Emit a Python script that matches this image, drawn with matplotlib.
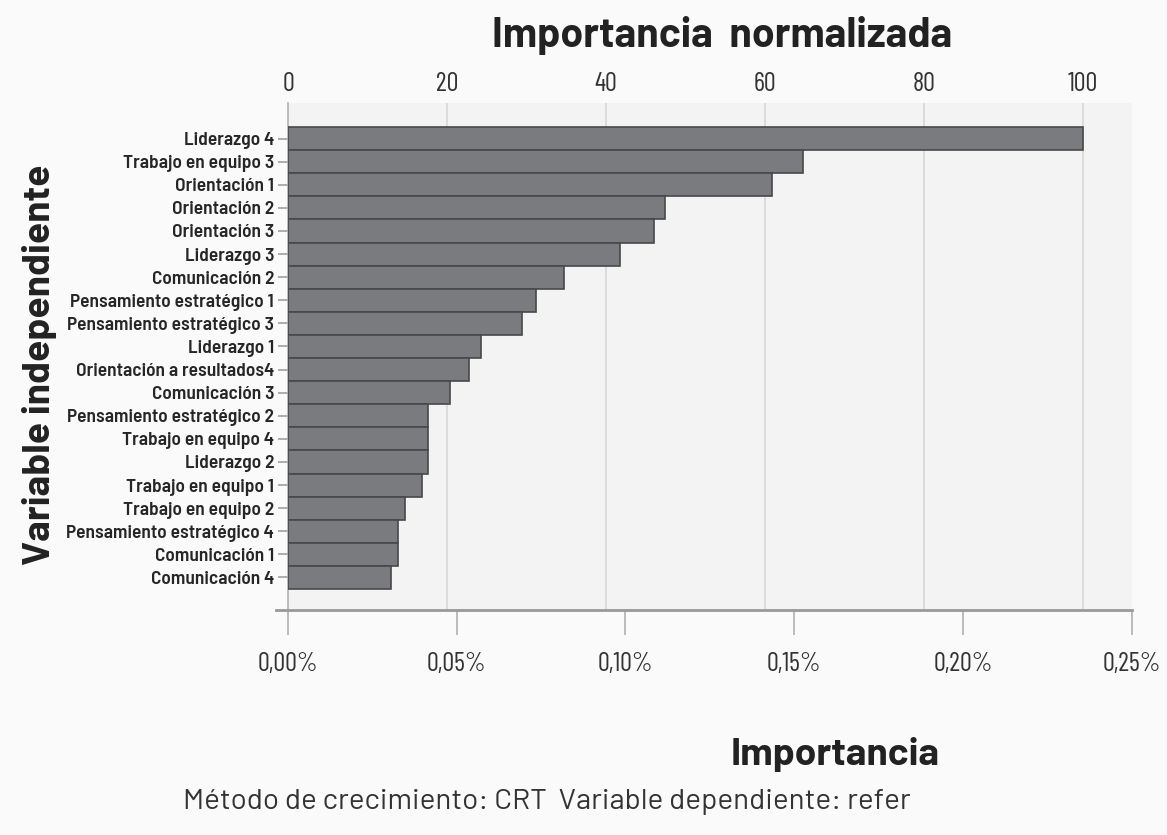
import matplotlib.pyplot as plt

# Datos (importancia en %)
variables = ['Liderazgo 4', 'Trabajo en equipo 3', 'Orientación 1', 'Orientación 2',
             'Orientación 3', 'Liderazgo 3', 'Comunicación 2', 'Pensamiento estratégico 1',
             'Pensamiento estratégico 3', 'Liderazgo 1', 'Orientación a resultados4',
             'Comunicación 3', 'Pensamiento estratégico 2', 'Trabajo en equipo 4',
             'Liderazgo 2', 'Trabajo en equipo 1', 'Trabajo en equipo 2',
             'Pensamiento estratégico 4', 'Comunicación 1', 'Comunicación 4']
importancia = [0.2356, 0.1525, 0.1434, 0.1118, 0.1085, 0.0983, 0.0817, 0.0735,
               0.0694, 0.0571, 0.0535, 0.0479, 0.0414, 0.0414, 0.0414, 0.0398,
               0.0347, 0.0327, 0.0327, 0.0305]
ticks_pct = [0.00, 0.05, 0.10, 0.15, 0.20, 0.25]
ticks_norm = [0, 20, 40, 60, 80, 100]

narrow = ['Barlow Condensed', 'DejaVu Sans']
semi = ['Barlow Semi Condensed', 'Barlow Condensed', 'DejaVu Sans']
din = ['Barlow', 'DejaVu Sans']

fig = plt.figure(figsize=(11.67, 8.35), dpi=100, facecolor='#fafafa')
ax = fig.add_axes([0.2468, 0.2689, 0.7228, 0.6077])
ax.set_facecolor('#f2f3f2')

maximo = max(importancia)
y = list(range(len(variables)))
ax.barh(y, importancia, height=1.0, color='#7a7b7f', edgecolor='#48484b',
        linewidth=1.2, zorder=3)

ax.set_xlim(0, 0.25)
ax.set_ylim(20.43, -1.54)

# eje inferior en %
ax.set_xticks(ticks_pct)
ax.set_xticklabels([('%.2f%%' % t).replace('.', ',') for t in ticks_pct],
                   family=narrow, fontsize=19, color='#333333')
ax.tick_params(axis='x', length=18, width=1.1, color='#aaaaaa', pad=12)

# rejilla según la importancia normalizada
ax.set_xticks([n / 100 * maximo for n in ticks_norm[1:]], minor=True)
ax.tick_params(axis='x', which='minor', length=0)
ax.grid(axis='x', which='minor', color='#d4d4d4', linewidth=1.1, zorder=0)

ax.set_yticks(y)
ax.set_yticklabels(variables, family=semi, fontsize=14, fontweight=600,
                   color='#262626')
ax.tick_params(axis='y', length=7, width=1.1, color='#999999', pad=3)

for s in ['top', 'right']:
    ax.spines[s].set_visible(False)
ax.spines['left'].set_color('#aaaaaa')
ax.spines['left'].set_linewidth(1.1)
ax.spines['bottom'].set_visible(False)
ax.plot([-0.0142, 1], [0, 0], transform=ax.transAxes, clip_on=False,
        color='#999999', linewidth=2, zorder=5)

# eje superior normalizado
top = ax.secondary_xaxis('top', functions=(lambda v: v / maximo * 100,
                                           lambda n: n / 100 * maximo))
top.set_xticks(ticks_norm)
top.set_xticklabels([str(n) for n in ticks_norm], family=narrow, fontsize=19,
                    color='#333333')
top.tick_params(length=0, pad=5)
top.spines['top'].set_visible(False)

fig.text(0.619, 0.958, 'Importancia  normalizada', family=din, fontsize=29.5,
         fontweight='bold', color='#222222', ha='center', va='center')
fig.text(0.034, 0.563, 'Variable independiente', family=din, fontsize=28,
         fontweight='bold', color='#222222', ha='center', va='center', rotation=90)
fig.text(0.8055, 0.096, 'Importancia', family=din, fontsize=28,
         fontweight='bold', color='#222222', ha='right', va='center')
fig.text(0.157, 0.039, 'Método de crecimiento: CRT  Variable dependiente: refer',
         family=din, fontsize=21.3, color='#333333', ha='left', va='center')

fig.savefig('out.png', dpi=100, facecolor=fig.get_facecolor())
